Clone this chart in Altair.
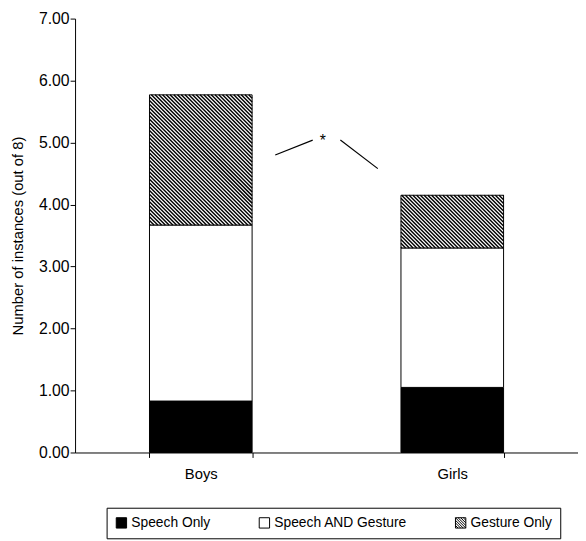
import altair as alt
import pandas as pd

# ---------------- data ----------------
groups = ["Boys", "Girls"]
categories = ["Speech Only", "Speech AND Gesture", "Gesture Only"]
speech_only = [0.83, 1.05]
speech_and_gesture = [2.84, 2.25]
gesture_only = [2.10, 0.85]
y_ticks = [0, 1, 2, 3, 4, 5, 6, 7]

# significance bracket: x in band units (0..2 across the plot), y in data units
sig_line_x = [0.796, 0.945, 1.055, 1.204]
sig_line_y = [4.80, 5.04, 5.04, 4.58]
sig_seg = [0, 0, 1, 1]
star_x = [0.985]
star_y = [5.02]
star_text = ["*"]

# ---------------- layout constants ----------------
W, H = 510, 440
YMAX = 7
BAND_PAD = 0.592
FONT = "Liberation Sans"

rows = []
for gi, g in enumerate(groups):
    base = 0.0
    for ci, (c, vals) in enumerate(zip(categories, [speech_only, speech_and_gesture, gesture_only])):
        v = vals[gi]
        rows.append({"group": g, "cat": c, "order": ci, "y0": base, "y1": base + v})
        base += v
df = pd.DataFrame(rows)

step = W / len(groups)
bar_w = step * (1 - BAND_PAD)
ppu = H / YMAX
PITCH = 3.8   # horizontal pitch of the hatch lines (px)

# hatch ("\\\") lines clipped to each Gesture Only segment, expressed in data units
hatch_rows = []
for gi, g in enumerate(groups):
    y0 = speech_only[gi] + speech_and_gesture[gi]
    y1 = y0 + gesture_only[gi]
    L = (gi + 0.5) * step - bar_w / 2
    R = L + bar_w
    T = H - y1 * ppu
    B = H - y0 * ppu
    k = int((L - B) // PITCH)
    while k * PITCH <= R - T:
        c = k * PITCH
        pa = max(T, L - c)
        pb = min(B, R - c)
        if pb - pa > 0.3:
            hatch_rows.append({"x": (pa + c) / step, "x2": (pb + c) / step,
                               "y": (H - pa) / ppu, "y2": (H - pb) / ppu})
        k += 1
hatch_df = pd.DataFrame(hatch_rows)

lines = []
for k in range(-3, 4):
    c = k * 0.5
    if c >= 0:
        lines.append(f"M{c-1:.2f},-1L1,{1-c:.2f}")
    else:
        lines.append(f"M-1,{-1-c:.2f}L{1+c:.2f},1")
hatch_path = "M-1,-1H1V1H-1Z" + "".join(lines)

xband = alt.X("group:N", sort=groups,
              scale=alt.Scale(domain=groups, paddingInner=BAND_PAD, paddingOuter=BAND_PAD / 2),
              axis=alt.Axis(title=None, labelAngle=0, tickBand="extent", tickSize=5,
                            labelPadding=9, labelFontSize=15))
yq = alt.Y("y1:Q", scale=alt.Scale(domain=[0, YMAX]),
           axis=alt.Axis(values=y_ticks, format=".2f", title="Number of instances (out of 8)",
                         tickSize=5, labelPadding=1, labelFontSize=16, titleFontSize=15,
                         titlePadding=13))

legend = alt.Legend(title=None, orient="none", legendX=32, legendY=496, direction="horizontal",
                    labelFontSize=14, labelFont=FONT, symbolSize=110, strokeColor="black",
                    padding=8, columnPadding=46, symbolStrokeColor="black",
                    symbolStrokeWidth=1, labelOffset=3, labelColor="black")
color = alt.Color("cat:N", scale=alt.Scale(domain=categories, range=["black", "white", "white"]),
                  legend=legend)
shape = alt.Shape("cat:N", scale=alt.Scale(domain=categories, range=["square", "square", hatch_path]),
                  legend=legend)

bars = alt.Chart(df).mark_bar(stroke="black", strokeWidth=1).encode(
    x=xband, y=yq, y2="y0:Q", color=color)

legend_layer = alt.Chart(df).transform_filter("false").mark_point(
    filled=True, stroke="black", strokeWidth=1, opacity=1).encode(
    x=xband, y="y1:Q", color=color, shape=shape)

base = alt.layer(bars, legend_layer)

xq = alt.X("x:Q", scale=alt.Scale(domain=[0, 2]), axis=None)
hatch = alt.Chart(hatch_df).mark_rule(color="black", strokeWidth=1.45).encode(
    x=xq, x2="x2:Q", y="y:Q", y2="y2:Q")

sig_df = pd.DataFrame({"x": sig_line_x, "y": sig_line_y, "seg": sig_seg})
star_df = pd.DataFrame({"x": star_x, "y": star_y, "t": star_text})
sig = alt.Chart(sig_df).mark_line(color="black", strokeWidth=1.2).encode(
    x=xq, y="y:Q", detail="seg:N")
star = alt.Chart(star_df).mark_text(fontSize=16, font=FONT, color="black").encode(
    x=xq, y="y:Q", text="t:N")
ann = alt.layer(hatch, sig, star)

chart = alt.layer(base, ann).resolve_scale(x="independent").properties(
    width=W, height=H,
    autosize=alt.AutoSizeParams(type="none"),
    padding={"left": 68, "top": 7, "right": 0, "bottom": 86}
).configure_view(stroke=None).configure_axis(
    labelFont=FONT, titleFont=FONT, labelColor="black", titleColor="black",
    domainColor="black", tickColor="black", grid=False, titleFontWeight="normal",
    domainWidth=1, tickWidth=1
)

chart.save("out.html", embed_options={"renderer": "svg", "actions": False})
